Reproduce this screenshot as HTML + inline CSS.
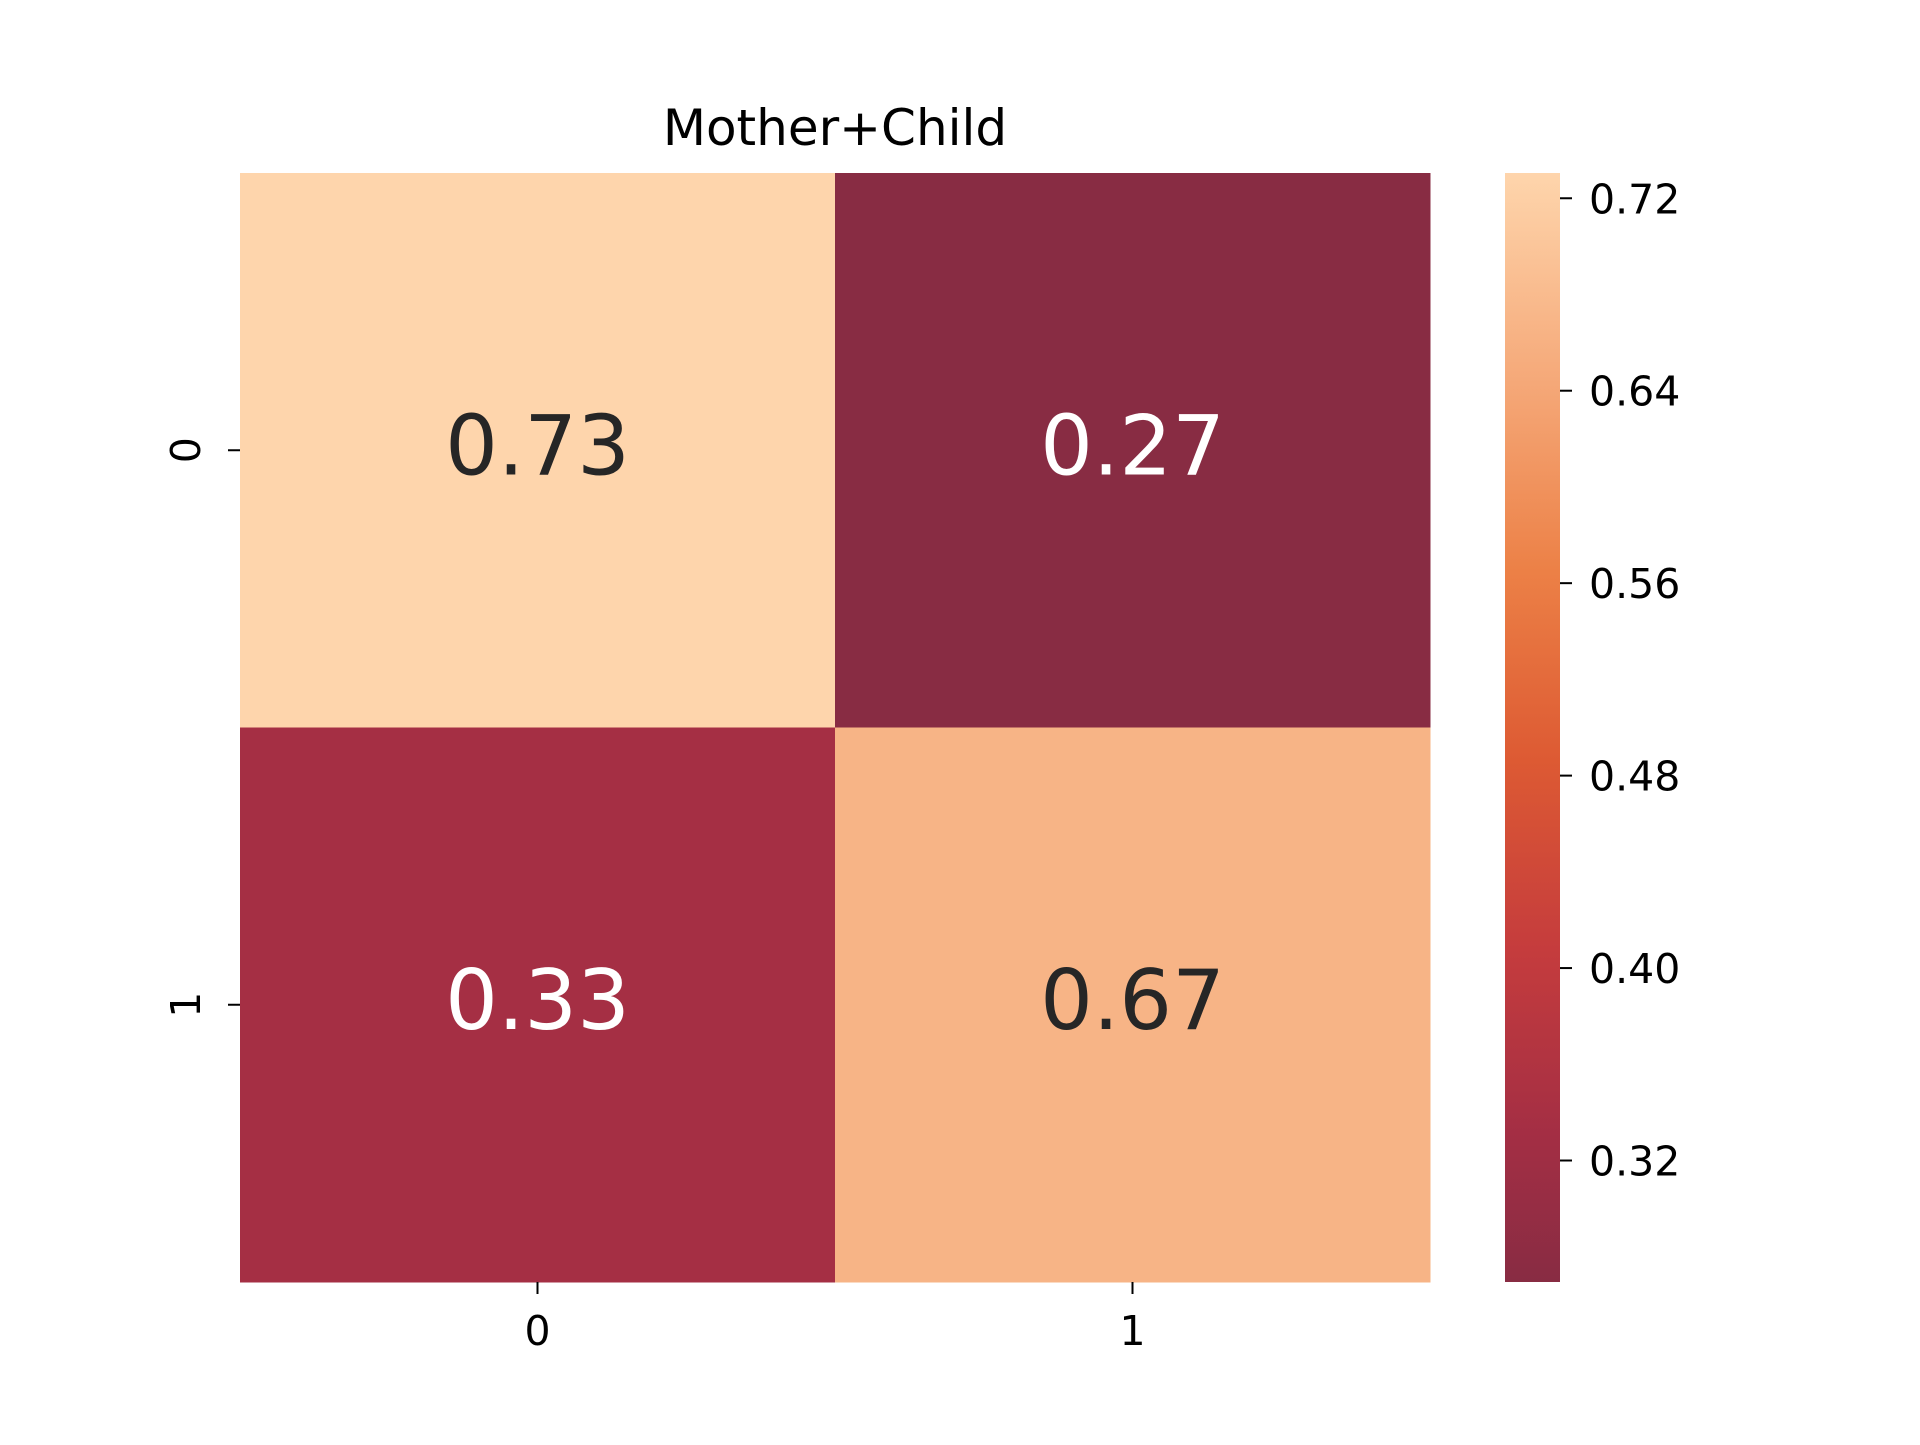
<!DOCTYPE html>
<html><head><meta charset="utf-8"><style>
body{margin:0;background:#fff}
svg text{font-family:"DejaVu Sans","Liberation Sans",sans-serif}
</style></head><body>
<svg id="chart" width="1920" height="1440" viewBox="0 0 1920 1440">
<defs><linearGradient id="cg" x1="0" y1="1" x2="0" y2="0">
<stop offset="0" stop-color="#882c43"/>
<stop offset="0.13" stop-color="#a32e44"/>
<stop offset="0.3" stop-color="#c53c3d"/>
<stop offset="0.47" stop-color="#dd5a33"/>
<stop offset="0.64" stop-color="#ec8046"/>
<stop offset="0.81" stop-color="#f5a878"/>
<stop offset="1" stop-color="#fed5ac"/>
</linearGradient></defs>
<text x="835" y="145" font-size="50" text-anchor="middle" fill="#000">Mother+Child</text>
<g id="cells"></g>
<g id="axes"></g>
<rect x="1505" y="173" width="55" height="1109" fill="url(#cg)"/>
<g id="cbar"></g>
</svg>
<script>
const rowLabels = ["0","1"];
const colLabels = ["0","1"];
const values = [[0.7305,0.2695],[0.3333,0.6667]];
const cbarTicks = [0.72,0.64,0.56,0.48,0.40,0.32];
const flat = values.flat();
const vmin = Math.min(...flat), vmax = Math.max(...flat);
const stops = [[0,[0x88,0x2c,0x43]],[0.13,[0xa3,0x2e,0x44]],[0.3,[0xc5,0x3c,0x3d]],[0.47,[0xdd,0x5a,0x33]],[0.64,[0xec,0x80,0x46]],[0.81,[0xf5,0xa8,0x78]],[1,[0xfe,0xd5,0xac]]];
function color(v){let t=Math.max(0,Math.min(1,(v-vmin)/(vmax-vmin)));
 for(let i=1;i<stops.length;i++){if(t<=stops[i][0]){const a=stops[i-1],b=stops[i];const f=(t-a[0])/(b[0]-a[0]);
 return 'rgb('+a[1].map((c,k)=>Math.round(c+(b[1][k]-c)*f)).join(',')+')';}}return 'rgb(254,213,172)';}
const X0=240,X1=1430,Y0=173,Y1=1282;
const cw=(X1-X0)/colLabels.length, ch=(Y1-Y0)/rowLabels.length;
const xs=i=>X0+i*cw, ys=j=>Y0+j*ch;
const NS='http://www.w3.org/2000/svg';
const cells=document.getElementById('cells'),axes=document.getElementById('axes'),cb=document.getElementById('cbar');
function mk(tag,attrs,parent,txt){const e=document.createElementNS(NS,tag);for(const k in attrs)e.setAttribute(k,attrs[k]);if(txt!==undefined)e.textContent=txt;parent.appendChild(e);return e;}
values.forEach((row,j)=>row.forEach((v,i)=>{
 const r=mk('rect',{x:xs(i),y:ys(j),width:cw+0.5,height:ch+0.5,fill:color(v)},cells);
 
 
 const t=mk('text',{x:xs(i)+cw/2,y:ys(j)+ch/2+24,'font-size':83,'text-anchor':'middle',fill:((v-vmin)/(vmax-vmin)>0.5)?'#262626':'#ffffff'},cells,v.toFixed(2));
 
 
}));
colLabels.forEach((l,i)=>{const cx=xs(i)+cw/2;
 mk('line',{x1:cx,x2:cx,y1:Y1,y2:Y1+12,stroke:'#000','stroke-width':2},axes);
 const t=mk('text',{x:cx,y:1345,'font-size':41,'text-anchor':'middle'},axes,l);
 
 
});
rowLabels.forEach((l,j)=>{const cy=ys(j)+ch/2;
 mk('line',{x1:X0-12,x2:X0,y1:cy,y2:cy,stroke:'#000','stroke-width':2},axes);
 const t=mk('text',{x:0,y:0,'font-size':41,'text-anchor':'middle',transform:'translate(200,'+cy+') rotate(-90)'},axes,l);
 
 
});
cbarTicks.forEach(v=>{const y=Y1-(v-vmin)/(vmax-vmin)*(Y1-Y0);
 mk('line',{x1:1560,x2:1572,y1:y,y2:y,stroke:'#000','stroke-width':2},cb);
 const t=mk('text',{x:1589,y:y+15,'font-size':41},cb,v.toFixed(2));
 
 
});
</script>
</body></html>
